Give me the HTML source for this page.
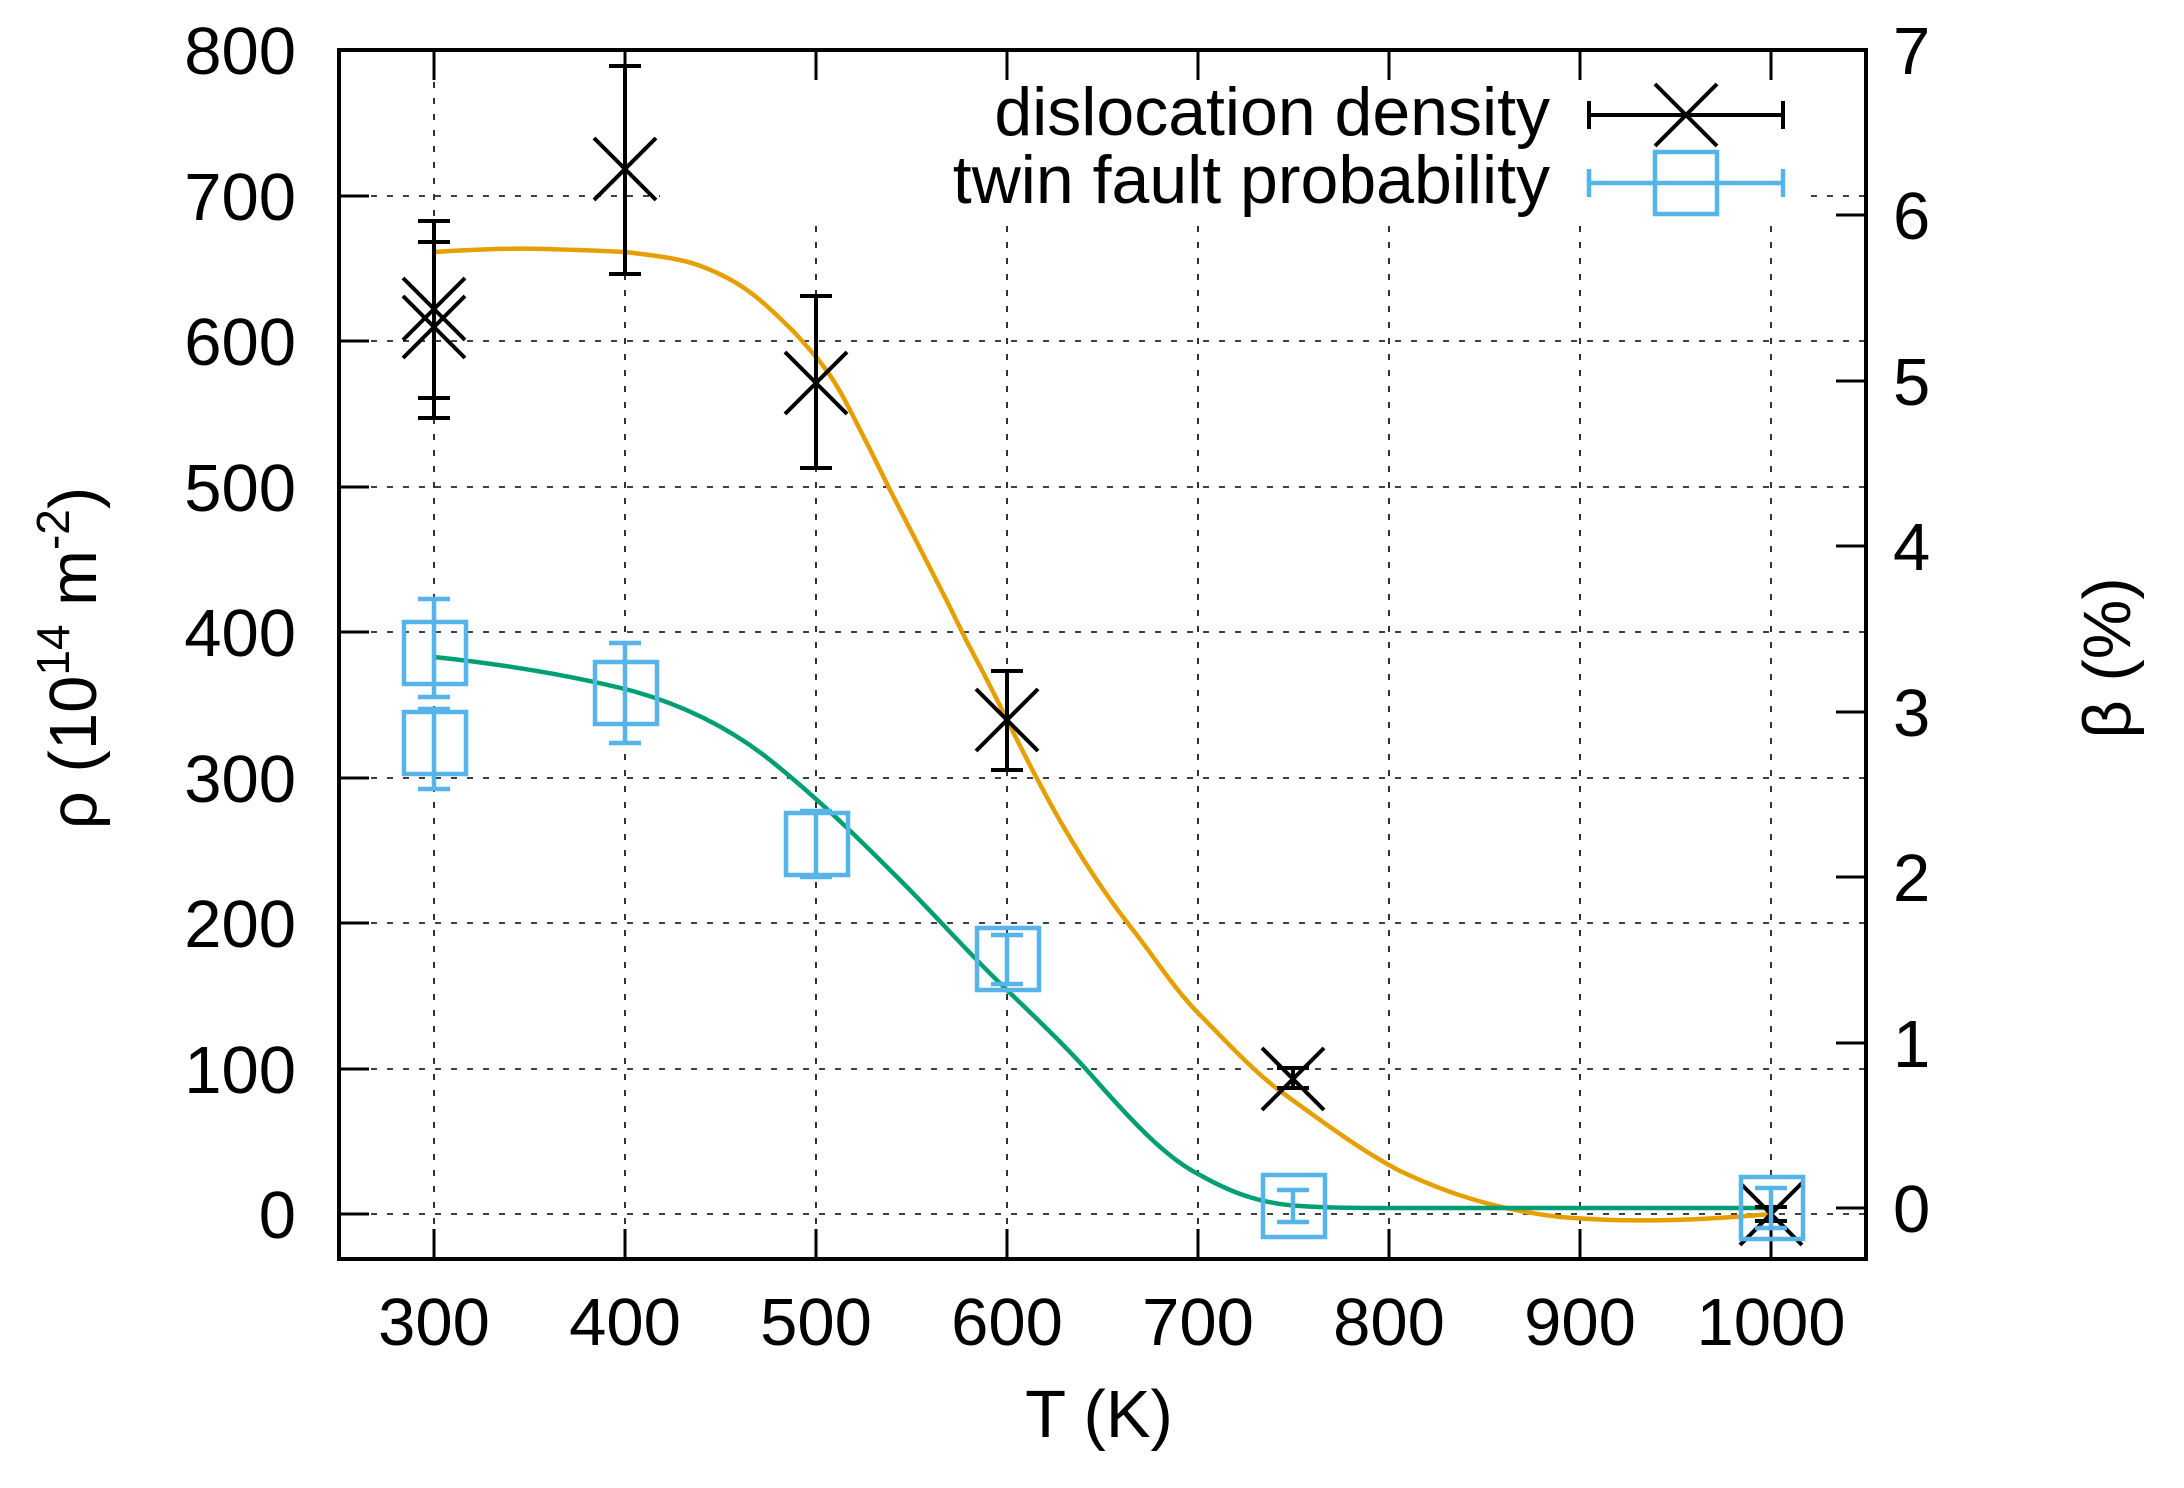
<!DOCTYPE html>
<html><head><meta charset="utf-8"><style>
html,body{margin:0;padding:0;background:#fff;}
svg{display:block;}
text{font-family:"Liberation Sans",sans-serif;fill:#000;}
</style></head><body>
<svg width="2184" height="1488" viewBox="0 0 2184 1488" xmlns="http://www.w3.org/2000/svg">
<rect width="2184" height="1488" fill="#fff"/>
<g stroke="#000" stroke-width="1.6" stroke-dasharray="6,10" fill="none">
<line x1="339" y1="1214" x2="1866" y2="1214"/>
<line x1="339" y1="1069" x2="1866" y2="1069"/>
<line x1="339" y1="923" x2="1866" y2="923"/>
<line x1="339" y1="778" x2="1866" y2="778"/>
<line x1="339" y1="632" x2="1866" y2="632"/>
<line x1="339" y1="487" x2="1866" y2="487"/>
<line x1="339" y1="341" x2="1866" y2="341"/>
<line x1="339" y1="196" x2="1866" y2="196"/>
<line x1="434" y1="50" x2="434" y2="1259"/>
<line x1="625" y1="50" x2="625" y2="1259"/>
<line x1="816" y1="50" x2="816" y2="1259"/>
<line x1="1007" y1="50" x2="1007" y2="1259"/>
<line x1="1198" y1="50" x2="1198" y2="1259"/>
<line x1="1389" y1="50" x2="1389" y2="1259"/>
<line x1="1580" y1="50" x2="1580" y2="1259"/>
<line x1="1771" y1="50" x2="1771" y2="1259"/>
</g>
<rect x="660" y="72" width="1150" height="152" fill="#fff"/>
<g stroke="#000" stroke-width="3">
<line x1="339" y1="1214" x2="369" y2="1214"/><line x1="339" y1="1069" x2="369" y2="1069"/>
<line x1="339" y1="923" x2="369" y2="923"/><line x1="339" y1="778" x2="369" y2="778"/>
<line x1="339" y1="632" x2="369" y2="632"/><line x1="339" y1="487" x2="369" y2="487"/>
<line x1="339" y1="341" x2="369" y2="341"/><line x1="339" y1="196" x2="369" y2="196"/>
<line x1="1866" y1="1208" x2="1836" y2="1208"/><line x1="1866" y1="1043" x2="1836" y2="1043"/>
<line x1="1866" y1="877" x2="1836" y2="877"/><line x1="1866" y1="712" x2="1836" y2="712"/>
<line x1="1866" y1="546" x2="1836" y2="546"/><line x1="1866" y1="381" x2="1836" y2="381"/>
<line x1="1866" y1="215" x2="1836" y2="215"/>
<line x1="434" y1="1259" x2="434" y2="1229"/><line x1="625" y1="1259" x2="625" y2="1229"/>
<line x1="816" y1="1259" x2="816" y2="1229"/><line x1="1007" y1="1259" x2="1007" y2="1229"/>
<line x1="1198" y1="1259" x2="1198" y2="1229"/><line x1="1389" y1="1259" x2="1389" y2="1229"/>
<line x1="1580" y1="1259" x2="1580" y2="1229"/><line x1="1771" y1="1259" x2="1771" y2="1229"/>
<line x1="434" y1="50" x2="434" y2="80"/><line x1="625" y1="50" x2="625" y2="80"/>
<line x1="816" y1="50" x2="816" y2="80"/><line x1="1007" y1="50" x2="1007" y2="80"/>
<line x1="1198" y1="50" x2="1198" y2="80"/><line x1="1389" y1="50" x2="1389" y2="80"/>
<line x1="1580" y1="50" x2="1580" y2="80"/><line x1="1771" y1="50" x2="1771" y2="80"/>
</g>
<path fill="none" stroke="#e69f00" stroke-width="4.5" stroke-linejoin="round" d="M434,252 C480,249 520,248 545,249 C580,250 605,251 625,252 C660,256 680,259 698,265 C720,273 740,284 755,296 C770,308 782,320 794,332 C805,344 815,355 824,367 C834,380 843,396 851,412 C864,437 877,463 889,488 C902,513 915,539 928,564 C941,589 954,615 966,640 C981,668 995,695 1008,722 C1030,765 1070,850 1133,930 C1155,958 1175,990 1200,1015 C1225,1040 1250,1068 1280,1091 C1320,1120 1360,1150 1400,1171 C1450,1195 1500,1210 1560,1217 C1620,1222 1680,1222 1771,1214"/>
<path fill="none" stroke="#009e73" stroke-width="4.5" stroke-linejoin="round" d="M434,657 C520,666 580,678 625,689 C680,703 730,728 770,760 C820,800 860,840 900,880 C940,920 970,955 1007,990 C1040,1022 1070,1050 1100,1085 C1140,1130 1170,1160 1200,1175 C1235,1195 1265,1204 1300,1206 C1330,1208 1360,1208 1400,1208 L1771,1208"/>
<g stroke="#000" stroke-width="4" fill="none">
<path d="M434,221V418 M418,221H450 M418,242H450 M418,398H450 M418,418H450"/>
<path d="M403,278L465,340 M403,340L465,278 M403,296L465,358 M403,358L465,296"/>
<path d="M625,66V274 M609,66H641 M609,274H641 M594,138L656,200 M594,200L656,138"/>
<path d="M816,296V468 M800,296H832 M800,468H832 M785,352L847,414 M785,414L847,352"/>
<path d="M1007,671V770 M991,671H1023 M991,770H1023 M976,689L1038,751 M976,751L1038,689"/>
<path d="M1293,1068V1088 M1277,1068H1309 M1277,1088H1309 M1262,1048L1324,1110 M1262,1110L1324,1048"/>
<path d="M1771,1207V1221 M1755,1207H1787 M1755,1221H1787 M1740,1183L1802,1245 M1740,1245L1802,1183"/>
</g>
<g stroke="#56b4e9" stroke-width="4.5" fill="none">
<path d="M434,599V697 M418,599H450 M418,697H450"/><rect x="404" y="622" width="62" height="62"/>
<path d="M434,709V789 M418,709H450 M418,789H450"/><rect x="404" y="712" width="62" height="62"/>
<path d="M625,643V743 M609,643H641 M609,743H641"/><rect x="595" y="662" width="62" height="62"/>
<path d="M816,811V877 M800,811H832 M800,877H832"/><rect x="786" y="813" width="62" height="62"/>
<path d="M1007,935V984 M991,935H1023 M991,984H1023"/><rect x="977" y="928" width="62" height="62"/>
<path d="M1293,1190V1222 M1277,1190H1309 M1277,1222H1309"/><rect x="1263" y="1175" width="62" height="62"/>
<path d="M1771,1188V1228 M1755,1188H1787 M1755,1228H1787"/><rect x="1741" y="1177" width="62" height="62"/>
</g>
<text x="1550" y="135" font-size="68" text-anchor="end">dislocation density</text>
<text x="1550" y="203" font-size="68" text-anchor="end">twin fault probability</text>
<g stroke="#000" stroke-width="4" fill="none"><path d="M1589,115H1783 M1589,101V129 M1783,101V129 M1655,84L1717,146 M1655,146L1717,84"/></g>
<g stroke="#56b4e9" stroke-width="4.5" fill="none"><path d="M1589,183H1783 M1589,169V197 M1783,169V197"/><rect x="1655" y="152" width="62" height="62"/></g>
<rect x="339" y="50" width="1527" height="1209" fill="none" stroke="#000" stroke-width="4"/>
<g font-size="67" text-anchor="end">
<text x="296" y="1238">0</text><text x="296" y="1093">100</text><text x="296" y="947">200</text>
<text x="296" y="802">300</text><text x="296" y="656">400</text><text x="296" y="511">500</text>
<text x="296" y="365">600</text><text x="296" y="220">700</text><text x="296" y="74">800</text>
</g>
<g font-size="67">
<text x="1893" y="1232">0</text><text x="1893" y="1067">1</text><text x="1893" y="901">2</text>
<text x="1893" y="736">3</text><text x="1893" y="570">4</text><text x="1893" y="405">5</text>
<text x="1893" y="239">6</text><text x="1893" y="74">7</text>
</g>
<g font-size="67" text-anchor="middle">
<text x="434" y="1345">300</text><text x="625" y="1345">400</text><text x="816" y="1345">500</text>
<text x="1007" y="1345">600</text><text x="1198" y="1345">700</text><text x="1389" y="1345">800</text>
<text x="1580" y="1345">900</text><text x="1771" y="1345">1000</text>
</g>
<text x="1099" y="1437" font-size="67" text-anchor="middle">T (K)</text>
<text transform="translate(96,658) rotate(-90)" font-size="67" text-anchor="middle">ρ (10<tspan font-size="46" dy="-27">14</tspan><tspan dy="27"> m</tspan><tspan font-size="46" dy="-27">-2</tspan><tspan dy="27">)</tspan></text>
<text transform="translate(2130,658) rotate(-90)" font-size="67" text-anchor="middle">β (%)</text>
</svg>
</body></html>
